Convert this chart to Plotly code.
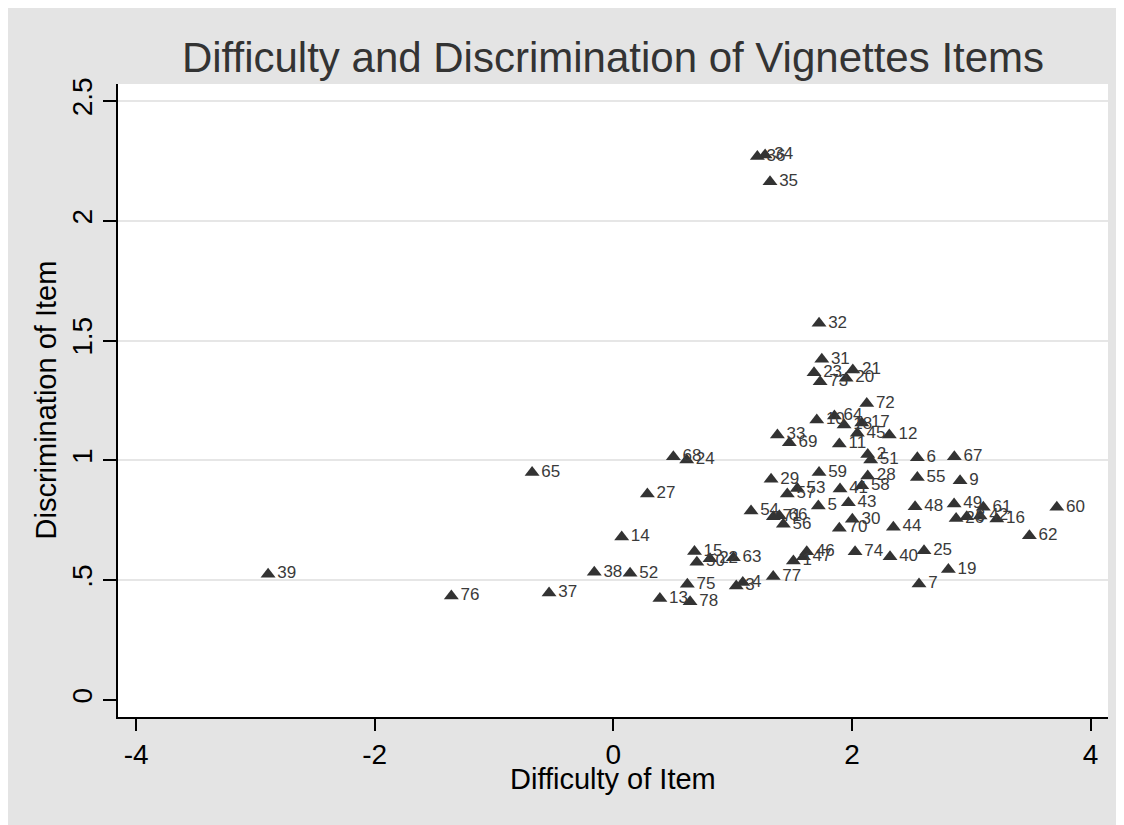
import plotly.graph_objects as go

item_labels = [str(i) for i in range(1, 79)]
difficulty = [1.509, 2.132, 1.03, 1.085, 1.718, 2.548, 2.562, 2.962, 2.906, 1.705,
              1.894, 2.313, 0.39, 0.07, 0.68, 3.214, 2.082, 1.934, 2.808, 1.951,
              2.007, 0.81, 1.682, 0.615, 2.604, 2.873, 0.285, 2.132, 1.322, 2.003,
              1.747, 1.724, 1.375, 1.272, 1.313, 1.207, -0.539, -0.16, -2.894, 2.319,
              1.90, 3.074, 1.97, 2.347, 2.045, 1.621, 1.593, 2.529, 2.856, 0.70,
              2.157, 0.14, 1.542, 1.154, 2.548, 1.425, 1.458, 2.082, 1.724, 3.717,
              3.101, 3.487, 1.006, 1.853, -0.681, 1.391, 2.858, 0.503, 1.475, 1.894,
              1.341, 2.124, 1.733, 2.026, 0.62, -1.358, 1.34, 0.643]
discrimination = [0.58, 1.025, 0.476, 0.49, 0.81, 1.011, 0.484, 0.765, 0.915, 1.169,
                  1.068, 1.106, 0.424, 0.68, 0.62, 0.755, 1.156, 1.148, 0.545, 1.343,
                  1.377, 0.59, 1.366, 1.002, 0.623, 0.758, 0.86, 0.935, 0.921, 0.754,
                  1.422, 1.572, 1.106, 2.275, 2.163, 2.268, 0.447, 0.533, 0.525, 0.598,
                  0.881, 0.768, 0.823, 0.721, 1.113, 0.619, 0.598, 0.807, 0.818, 0.575,
                  1.002, 0.529, 0.883, 0.789, 0.929, 0.733, 0.86, 0.894, 0.949, 0.804,
                  0.804, 0.686, 0.594, 1.185, 0.95, 0.769, 1.015, 1.015, 1.074, 0.717,
                  0.765, 1.238, 1.328, 0.619, 0.483, 0.434, 0.515, 0.41]

x_ticks = [-4, -2, 0, 2, 4]
x_tick_text = ["-4", "-2", "0", "2", "4"]
y_ticks = [0, 0.5, 1, 1.5, 2, 2.5]
y_tick_text = ["0", ".5", "1", "1.5", "2", "2.5"]
grid_vals = [0.5, 1, 1.5, 2, 2.5]

FONT = "Liberation Sans, Arial, sans-serif"
x_range = [-4.152, 4.146]
y_range = [-0.071, 2.571]

# page body has an 8px margin; figure coords = screen coords - 8
W, H = 1124, 825
L, T, R, B = 110, 76, 1100, 709

fig = go.Figure()
fig.add_trace(go.Scatter(
    x=difficulty, y=discrimination, mode="markers+text",
    text=item_labels, textposition="middle right",
    textfont=dict(family=FONT, size=17, color="#3a3a3a"),
    marker=dict(symbol="triangle-up", size=13, color="#333333"),
    showlegend=False, hoverinfo="skip",
))

fig.update_layout(
    width=W, height=H,
    margin=dict(l=L, r=W - R, t=T, b=H - B),
    paper_bgcolor="#e4e4e4", plot_bgcolor="white",
    font=dict(family=FONT, color="black"),
    title=dict(text="Difficulty and Discrimination of Vignettes Items",
               x=0.5, xref="paper", xanchor="center",
               y=(H - 49) / H, yref="container", yanchor="middle",
               font=dict(family=FONT, size=42, color="#333333")),
    xaxis=dict(range=x_range, tickvals=x_ticks, ticktext=x_tick_text,
               ticks="outside", ticklen=12,
               tickwidth=1.5, tickcolor="black", showgrid=False, zeroline=False,
               showline=True, linecolor="black", linewidth=1.5,
               tickfont=dict(family=FONT, size=28, color="black"),
               ticklabelstandoff=0),
    yaxis=dict(range=y_range, tickvals=y_ticks, ticktext=y_tick_text, tickangle=-90,
               ticks="outside", ticklen=13, tickwidth=1.5, tickcolor="black",
               showgrid=False, zeroline=False, showline=True, linecolor="black",
               linewidth=1.5, tickfont=dict(family=FONT, size=28, color="black"),
               ticklabelstandoff=0),
    yaxis2=dict(range=y_range, overlaying="y", tickvals=grid_vals, showticklabels=False,
                showgrid=True, gridcolor="#e6e6e6", gridwidth=2, zeroline=False,
                ticks="", showline=False),
    annotations=[
        dict(text="Difficulty of Item", xref="paper", yref="paper", x=0.5,
             y=-(771 - B) / (B - T), xanchor="center", yanchor="middle", showarrow=False,
             font=dict(family=FONT, size=29, color="black")),
        dict(text="Discrimination of Item", xref="paper", yref="paper",
             x=-(L - 37) / (R - L), y=0.5, xanchor="center", yanchor="middle",
             textangle=-90, showarrow=False,
             font=dict(family=FONT, size=29, color="black")),
    ],
)
# invisible trace to activate the grid axis
fig.add_trace(go.Scatter(x=[None], y=[None], yaxis="y2", showlegend=False))

fig.write_html("out.html")
